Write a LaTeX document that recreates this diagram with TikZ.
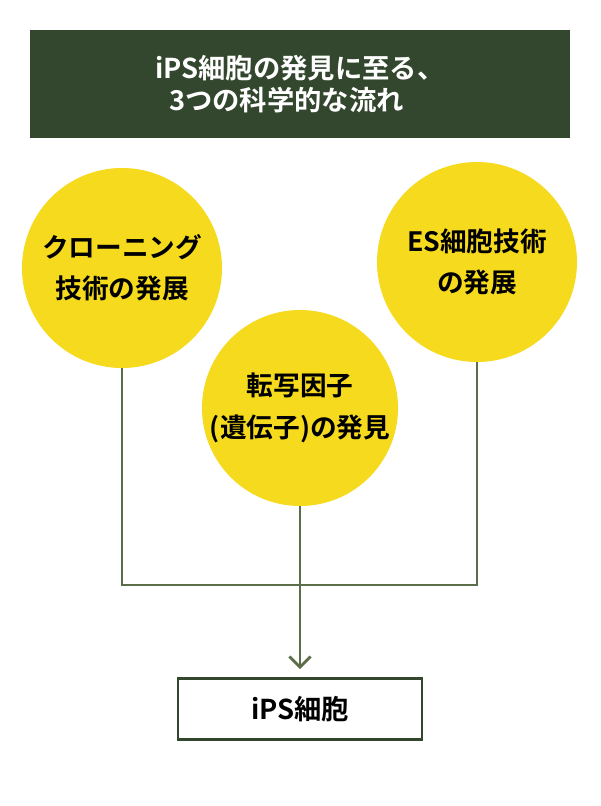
\documentclass[tikz,border=0pt]{standalone}
\usepackage{fontspec}
\newfontfamily\jp{Noto Sans CJK JP}[BoldFont={* Bold}]
\usetikzlibrary{arrows.meta}
\definecolor{darkgreen}{HTML}{33462E}
\definecolor{linegreen}{HTML}{5B6E49}
\definecolor{topicyellow}{HTML}{F6DA1E}
\tikzset{
  topic/.style={circle, fill=topicyellow, minimum size=150pt, inner sep=0pt,
    align=center, font=\jp\bfseries\fontsize{20}{31}\selectfont},
  flow/.style={draw=linegreen, line width=2pt},
}
\begin{document}
\begin{tikzpicture}[x=0.75pt, y=-0.75pt]
	\useasboundingbox (0,0) rectangle (600,806);
	\node (title) [fill=darkgreen, minimum width=405pt, minimum height=81pt, text=white,
	  align=left, font=\jp\bfseries\fontsize{20.5}{24}\selectfont] at (300,84)
	  {iPS細胞の発見に至る、\\\hspace{0.5em}3つの科学的な流れ\hspace{0.8em}};
	
	\node (cloning) [topic] at (122,268) {クローニング\\技術の発展};
	\node (es) [topic] at (477,262) {ES細胞技術\\の発展};
	\node (factor) [topic, minimum size=147pt] at (300,408) {転写因子\\(遺伝子)の発見};
	
	\node (ips) [draw=darkgreen, line width=2pt, minimum width=183pt, minimum height=46pt,
	  font=\jp\bfseries\fontsize{20.5}{24}\selectfont] at (300,709) {iPS細胞};
	
	\coordinate (join) at (300,585);
	\draw[flow] (cloning.south) |- (join) -| (es.south);
	\draw[flow, -{Straight Barb[length=8pt, width=16pt, line width=2pt]}]
	  (factor.south) -- ([yshift=6pt]ips.north);
\end{tikzpicture}
\end{document}
